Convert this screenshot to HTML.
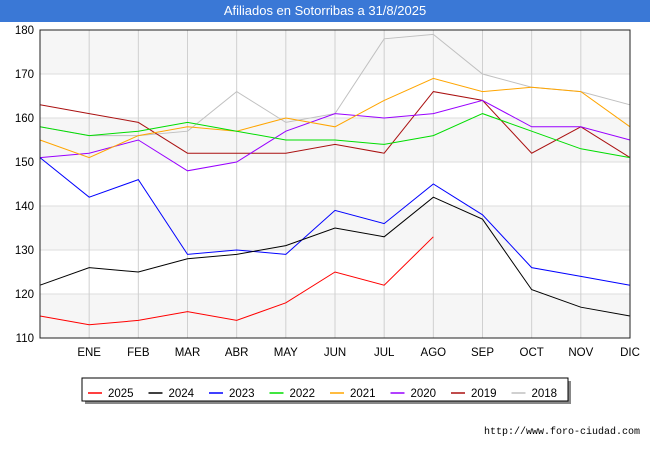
<!DOCTYPE html>
<html><head><meta charset="utf-8"><style>
body{margin:0;width:650px;height:450px;background:#fff;font-family:"Liberation Sans",sans-serif;overflow:hidden}
#title{position:absolute;left:0;top:0;width:650px;height:22px;background:#3a78d6;color:#fff;font-size:13px;text-align:center;line-height:22px}
#url{position:absolute;right:10px;top:427px;font-size:10px;color:#000;font-family:"Liberation Mono",monospace}
</style></head><body>
<div id="title">Afiliados en Sotorribas a 31/8/2025</div>
<svg id="chart" width="650" height="450" style="position:absolute;left:0;top:0"></svg>
<div id="url">http://www.foro-ciudad.com</div>
<script>
const months=["","ENE","FEB","MAR","ABR","MAY","JUN","JUL","AGO","SEP","OCT","NOV","DIC"];
const yTicks=[110,120,130,140,150,160,170,180];
const seriesNames=["2025","2024","2023","2022","2021","2020","2019","2018"];
const seriesColors=["#ff0000","#000000","#0000ff","#00dd00","#ffa500","#9900ff","#aa1111","#c0c0c0"];
const s2025=[115,113,114,116,114,118,125,122,133];
const s2024=[122,126,125,128,129,131,135,133,142,137,121,117,115];
const s2023=[151,142,146,129,130,129,139,136,145,138,126,124,122];
const s2022=[158,156,157,159,157,155,155,154,156,161,157,153,151];
const s2021=[155,151,156,158,157,160,158,164,169,166,167,166,158];
const s2020=[151,152,155,148,150,157,161,160,161,164,158,158,155];
const s2019=[163,161,159,152,152,152,154,152,166,164,152,158,151];
const s2018=[158,156,156,157,166,159,161,178,179,170,167,166,163];
const allSeries=[s2025,s2024,s2023,s2022,s2021,s2020,s2019,s2018];
const svg=document.getElementById('chart');const NS="http://www.w3.org/2000/svg";
const L=40,R=630,T=30,B=338;
const x=i=>L+i*(R-L)/12;
const y=v=>B-(v-110)*(B-T)/70;
function mk(t,a,p){const e=document.createElementNS(NS,t);for(const k in a)e.setAttribute(k,a[k]);(p||svg).appendChild(e);return e;}
for(let i=0;i<yTicks.length-1;i+=2){const b=mk('rect',{x:L,y:y(yTicks[i+1]),width:R-L,height:y(yTicks[i])-y(yTicks[i+1]),fill:'#f6f6f6'});

}
yTicks.forEach(v=>{const g=mk('line',{x1:L,x2:R,y1:y(v),y2:y(v),stroke:'#dddddd'});


const t=mk('text',{x:L-6,y:y(v)+4,'text-anchor':'end','font-size':11.5,fill:'#000'});t.textContent=v;

});
months.forEach((m,i)=>{if(i>0){const g=mk('line',{x1:x(i),x2:x(i),y1:T,y2:B,stroke:'#d0d0d0'});

}
const t=mk('text',{x:x(i),y:B+18,'text-anchor':'middle','font-size':11.5,fill:'#000'});t.textContent=m;

});
for(let s=allSeries.length-1;s>=0;s--){const d=allSeries[s].map((v,i)=>(i?'L':'M')+x(i)+' '+y(v)).join('');
const p=mk('path',{d,fill:'none',stroke:seriesColors[s],'stroke-width':1});

}
const ax=mk('rect',{x:L,y:T,width:R-L,height:B-T,fill:'none',stroke:'#222'});


const lg=mk('g',{});


mk('rect',{x:85,y:381,width:486,height:23,fill:'#888'},lg);
mk('rect',{x:82,y:378,width:486,height:23,fill:'#fff',stroke:'#000'},lg);
seriesNames.forEach((n,i)=>{const ex=88+i*60.5;
const e=mk('g',{},lg);


mk('line',{x1:ex,x2:ex+14,y1:393,y2:393,stroke:seriesColors[i],'stroke-width':1.5},e);
const t=mk('text',{x:ex+20,y:397,'font-size':11.5,fill:'#000'},e);t.textContent=n;});
</script>
</body></html>
